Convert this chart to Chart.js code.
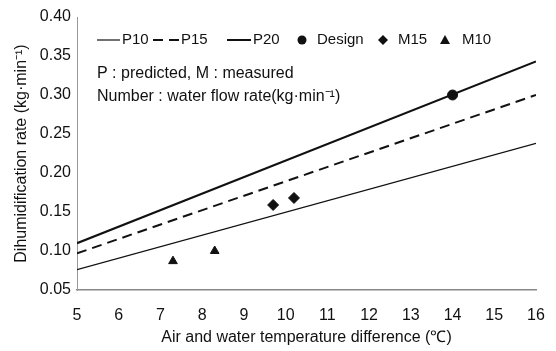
<!DOCTYPE html>
<html>
<head>
<meta charset="utf-8">
<script src="https://cdn.jsdelivr.net/npm/chart.js@4"></script>
<style>
  html, body { margin: 0; padding: 0; background: #fff; }
  #wrap { width: 556px; height: 351px; }
</style>
</head>
<body>
<div id="wrap"><canvas id="myChart" width="556" height="351"></canvas></div>
<script>
// temperature difference at line ends
var xEnds = [5, 16];
// predicted dehumidification rate at x = 5 and x = 16
var p10 = [0.076, 0.238];
var p15 = [0.097, 0.300];
var p20 = [0.110, 0.343];
// design point
var designX = [14];
var designY = [0.300];
// measured
var m15X = [9.7, 10.2];
var m15Y = [0.159, 0.168];
var m10X = [7.3, 8.3];
var m10Y = [0.087, 0.100];

var yTicks = [0.05, 0.10, 0.15, 0.20, 0.25, 0.30, 0.35, 0.40];

function pares(xs, ys) {
    var out = [];
    for (var i = 0; i < xs.length; i++) out.push({ x: xs[i], y: ys[i] });
    return out;
}

var fuente = "'Liberation Sans', Arial, sans-serif";

// leyenda dibujada a mano dentro del area del grafico
var leyendaPlugin = {
    id: 'leyenda',
    afterDraw: function (chart) {
        var c = chart.ctx;
        c.save();
        c.fillStyle = '#111';
        c.strokeStyle = '#111';
        c.font = '15px ' + fuente;
        c.textBaseline = 'middle';
        var y = 40;
        // P10
        c.lineWidth = 1.2;
        c.beginPath(); c.moveTo(97, y); c.lineTo(120, y); c.stroke();
        c.fillText('P10', 122, y);
        // P15
        c.lineWidth = 2;
        c.beginPath(); c.moveTo(153, y); c.lineTo(163, y); c.moveTo(169, y); c.lineTo(179, y); c.stroke();
        c.fillText('P15', 181, y);
        // P20
        c.beginPath(); c.moveTo(227, y); c.lineTo(251, y); c.stroke();
        c.fillText('P20', 253, y);
        // Design
        c.beginPath(); c.arc(302, y, 4.5, 0, Math.PI * 2); c.fill();
        c.fillText('Design', 317, y);
        // M15
        c.beginPath(); c.moveTo(383, y - 5); c.lineTo(388, y); c.lineTo(383, y + 5); c.lineTo(378, y); c.closePath(); c.fill();
        c.fillText('M15', 398, y);
        // M10
        c.beginPath(); c.moveTo(445, y - 5); c.lineTo(450, y + 4); c.lineTo(440, y + 4); c.closePath(); c.fill();
        c.fillText('M10', 462, y);
        c.font = '16px ' + fuente;
        c.fillText('P : predicted, M : measured', 97, 74);
        c.fillText('Number : water flow rate(kg\u00b7min\u207b\u00b9)', 97, 97);
        c.restore();
    }
};

function inicializarGrafico() {
    var ctx = document.getElementById('myChart').getContext('2d');
    var myChart = new Chart(ctx, {
        type: 'scatter',
        data: {
            datasets: [
                { label: 'P10', data: pares(xEnds, p10), showLine: true, borderColor: '#111', borderWidth: 1.2, pointRadius: 0 },
                { label: 'P15', data: pares(xEnds, p15), showLine: true, borderColor: '#111', borderWidth: 2, borderDash: [10, 6], pointRadius: 0 },
                { label: 'P20', data: pares(xEnds, p20), showLine: true, borderColor: '#111', borderWidth: 2, pointRadius: 0 },
                { label: 'Design', data: pares(designX, designY), pointStyle: 'circle', pointRadius: 5, backgroundColor: '#111', borderColor: '#111' },
                { label: 'M15', data: pares(m15X, m15Y), pointStyle: 'rectRot', pointRadius: 5.5, backgroundColor: '#111', borderColor: '#111' },
                { label: 'M10', data: pares(m10X, m10Y), pointStyle: 'triangle', pointRadius: 5, backgroundColor: '#111', borderColor: '#111' }
            ]
        },
        options: {
            responsive: false,
            animation: false,
            layout: { padding: { top: 17, right: 20, left: 8, bottom: 0 } },
            plugins: {
                legend: { display: false },
                tooltip: { enabled: false }
            },
            scales: {
                x: {
                    type: 'linear',
                    min: 5,
                    max: 16,
                    afterFit: function (s) { s.height = 61; s.paddingLeft = 0; s.paddingRight = 0; },
                    ticks: { stepSize: 1, color: '#111', padding: 16, font: { family: fuente, size: 16 } },
                    grid: { display: false, drawTicks: false },
                    border: { display: true, color: '#888', width: 1.5, dash: [10, 3] },
                    title: { display: true, text: 'Air and water temperature difference (\u2103)', color: '#111', padding: { top: 6 }, font: { family: fuente, size: 16 } }
                },
                y: {
                    min: 0.05,
                    max: 0.40,
                    afterFit: function (s) { s.width = 69; s.paddingTop = 0; s.paddingBottom = 0; },
                    afterBuildTicks: function (s) { s.ticks = yTicks.map(function (v) { return { value: v }; }); },
                    ticks: {
                        color: '#111', padding: 6, font: { family: fuente, size: 16 },
                        callback: function (v) { return v.toFixed(2); }
                    },
                    grid: { display: false, drawTicks: false },
                    border: { display: true, color: '#999', width: 1, dash: [6, 3] },
                    title: { display: true, text: 'Dihumidification rate (kg\u00b7min\u207b\u00b9)', color: '#111', padding: { bottom: 2 }, font: { family: fuente, size: 16 } }
                }
            }
        },
        plugins: [leyendaPlugin]
    });
}

inicializarGrafico();
</script>
</body>
</html>
